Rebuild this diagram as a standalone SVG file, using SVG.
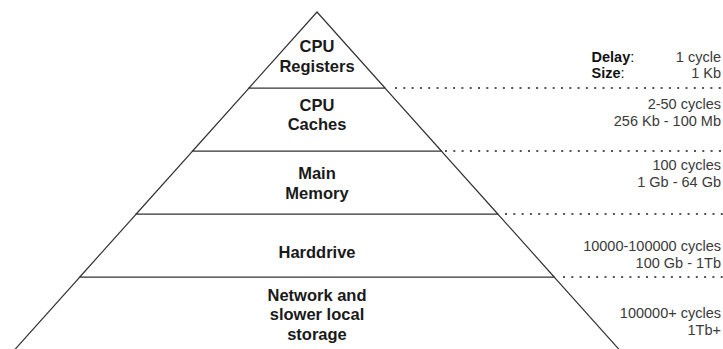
<svg xmlns="http://www.w3.org/2000/svg" width="723" height="349" viewBox="0 0 723 349">
<style>
.layer{fill:#fff;stroke:#333;stroke-width:1.2}
.lbl{font-family:"Liberation Sans",Arial,sans-serif;font-size:16.5px;font-weight:bold;fill:#1a1a1a;text-anchor:middle}
.val{font-family:"Liberation Sans",Arial,sans-serif;font-size:14.5px;fill:#3a3a3a;text-anchor:end}
.key{font-family:"Liberation Sans",Arial,sans-serif;font-size:14.5px;fill:#111}
.dot{stroke:#555;stroke-width:2;stroke-dasharray:2 6.3;fill:none}
</style>
<rect width="723" height="349" fill="#fff"/>
<g id="storage">
<polygon class="layer" points="79.8,277 554.2,277 628.5,360 5.5,360"/>
<text class="lbl" x="317" y="300.5">Network and</text>
<text class="lbl" x="317" y="320">slower local</text>
<text class="lbl" x="317" y="339.5">storage</text>
</g>
<g id="harddrive">
<polygon class="layer" points="136.2,214 497.8,214 554.2,277 79.8,277"/>
<text class="lbl" x="317" y="257.5">Harddrive</text>
</g>
<g id="memory">
<polygon class="layer" points="192.6,151 441.4,151 497.8,214 136.2,214"/>
<text class="lbl" x="317" y="179.3">Main</text>
<text class="lbl" x="317" y="198.8">Memory</text>
</g>
<g id="caches">
<polygon class="layer" points="249,88 385,88 441.4,151 192.6,151"/>
<text class="lbl" x="317" y="110.7">CPU</text>
<text class="lbl" x="317" y="130.2">Caches</text>
</g>
<g id="registers">
<polygon class="layer" points="317,12 385,88 249,88"/>
<text class="lbl" x="317" y="52.3">CPU</text>
<text class="lbl" x="317" y="71.8">Registers</text>
</g>
<g id="guides">
<line class="dot" x1="395" y1="88" x2="723" y2="88"/>
<line class="dot" x1="445" y1="151" x2="723" y2="151"/>
<line class="dot" x1="505" y1="214" x2="723" y2="214"/>
<line class="dot" x1="563" y1="277" x2="723" y2="277"/>
</g>
<g id="metrics">
<text class="key" x="591.5" y="61.5"><tspan font-weight="bold">Delay</tspan>:</text>
<text class="key" x="591.5" y="78"><tspan font-weight="bold">Size</tspan>:</text>
<text class="val" x="721" y="61.5">1 cycle</text>
<text class="val" x="721" y="78">1 Kb</text>
<text class="val" x="721" y="108.5">2-50 cycles</text>
<text class="val" x="721" y="125.5">256 Kb - 100 Mb</text>
<text class="val" x="721" y="170">100 cycles</text>
<text class="val" x="721" y="186.5">1 Gb - 64 Gb</text>
<text class="val" x="721" y="251">10000-100000 cycles</text>
<text class="val" x="721" y="267.5">100 Gb - 1Tb</text>
<text class="val" x="721" y="318">100000+ cycles</text>
<text class="val" x="721" y="334.5">1Tb+</text>
</g>
</svg>
